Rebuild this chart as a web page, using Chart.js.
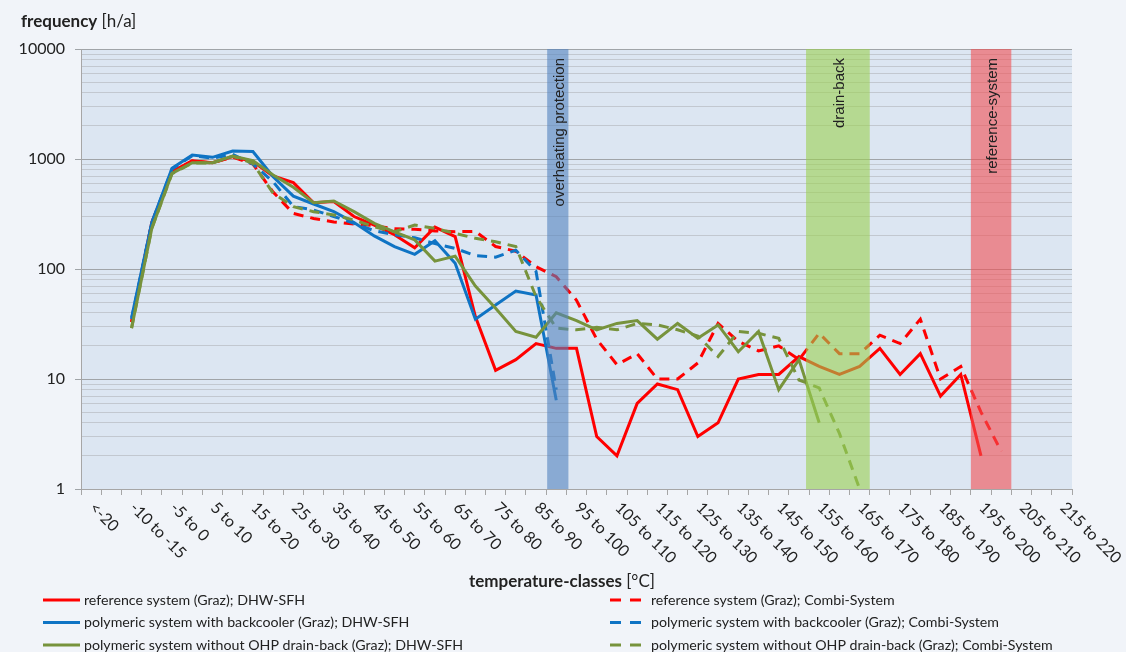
<!DOCTYPE html>
<html>
<head>
<meta charset="utf-8">
<script src="https://cdn.jsdelivr.net/npm/chart.js@4"></script>
<style>
  body { margin: 0; background: #f1f4f9; }
</style>
</head>
<body>
<canvas id="chart" width="1126" height="652"></canvas>
<script>
// temperature classes (every other one is labelled on the axis)
const categories = [
  '<-20', '-20 to -15', '-10 to -15', '-10 to -5', '-5 to 0', '0 to 5', '5 to 10', '10 to 15',
  '15 to 20', '20 to 25', '25 to 30', '30 to 35', '35 to 40', '40 to 45', '45 to 50', '50 to 55',
  '55 to 60', '60 to 65', '65 to 70', '70 to 75', '75 to 80', '80 to 85', '85 to 90', '90 to 95',
  '95 to 100', '100 to 105', '105 to 110', '110 to 115', '115 to 120', '120 to 125', '125 to 130',
  '130 to 135', '135 to 140', '140 to 145', '145 to 150', '150 to 155', '155 to 160', '160 to 165',
  '165 to 170', '170 to 175', '175 to 180', '180 to 185', '185 to 190', '190 to 195', '195 to 200',
  '200 to 205', '205 to 210', '210 to 215', '215 to 220'
];

// frequency [h/a]
const refDhw = [null, null, 33, 265, 770, 965, 925, 1050, 950, 700, 610, 400, 410, 300, 250, 205, 156,
  240, 197, 37, 12, 15, 21, 19, 19, 3, 2, 6, 9, 8, 3, 4, 10, 11, 11, 16, 13, 11, 13, 19, 11, 17, 7, 11, 2];
const refCombi = [null, null, 33, 262, 760, 960, 920, 1040, 900, 500, 320, 288, 268, 256, 248, 232, 230,
  222, 218, 220, 160, 145, 105, 85, 52, 23, 13.5, 17, 10, 10, 14, 32, 22, 18, 20, 15, 26, 17, 17, 25, 21,
  35, 10, 13, 5, 2.2];
const backDhw = [null, null, 36, 265, 823, 1087, 1036, 1183, 1170, 690, 460, 390, 332, 265, 200, 160, 136,
  181, 113, 35, 47, 63, 58, 6.4];
const backCombi = [null, null, 35, 262, 810, 1070, 1020, 1100, 900, 620, 370, 344, 300, 260, 223, 205, 192,
  170, 154, 132, 128, 148, 95, 8];
const drainDhw = [null, null, 29, 234, 741, 925, 925, 1065, 966, 715, 553, 401, 415, 332, 260, 218, 184,
  118, 131, 70, 44, 27, 24, 40, 34, 28, 32, 34, 23, 32, 23.5, 31, 17.7, 27, 8, 15, 4];
const drainCombi = [null, null, 29, 234, 735, 920, 920, 1060, 914, 488, 369, 332, 310, 279, 242, 218, 251,
  234, 211, 190, 177, 160, 56, 29, 28, 29.5, 28, 32, 31, 28, 24.6, 16, 27, 26, 23.4, 9.8, 8.3, 3.2, 1];

const seriesLabels = [
  'reference system (Graz); DHW-SFH',
  'reference system (Graz); Combi-System',
  'polymeric system with backcooler (Graz); DHW-SFH',
  'polymeric system with backcooler (Graz); Combi-System',
  'polymeric system without OHP drain-back (Graz); DHW-SFH',
  'polymeric system without OHP drain-back (Graz); Combi-System'
];

// y ticks of the log axis
const decades = [1, 10, 100, 1000, 10000];
const yTickValues = [1, 2, 3, 4, 5, 6, 7, 8, 9, 10, 20, 30, 40, 50, 60, 70, 80, 90, 100, 200, 300, 400, 500,
  600, 700, 800, 900, 1000, 2000, 3000, 4000, 5000, 6000, 7000, 8000, 9000, 10000];

// marked ranges (category boundaries)
const bandLabels = ['overheating protection', 'drain-back', 'reference-system'];
const bandFrom = [23.05, 35.85, 44];
const bandTo = [24.1, 39, 46];
const bandColors = ['rgba(82,130,190,0.6)', 'rgba(155,208,80,0.6)', 'rgba(242,78,82,0.6)'];

const RED = '#ff0000', BLUE = '#0f74c4', GREEN = '#77933c';
const FONT = 'Lato, "Open Sans", sans-serif';

function line(label, data, color, dashed, order) {
  return {
    label, data,
    borderColor: color,
    borderWidth: 3,
    borderDash: dashed ? [10, 7] : [],
    pointRadius: 0,
    fill: false,
    tension: 0,
    order
  };
}

const bgPlugin = {
  id: 'bg',
  beforeDraw(chart) {
    const { ctx, chartArea: a } = chart;
    ctx.save();
    ctx.fillStyle = '#f1f4f9';
    ctx.fillRect(0, 0, chart.width, chart.height);
    ctx.fillStyle = '#dce6f2';
    ctx.fillRect(a.left, a.top, a.right - a.left, a.bottom - a.top);
    ctx.restore();
  }
};

const bandPlugin = {
  id: 'bands',
  afterDatasetsDraw(chart) {
    const { ctx, chartArea: a, scales: { x } } = chart;
    ctx.save();
    bandLabels.forEach((lab, i) => {
      const x1 = x.getPixelForValue(bandFrom[i] - 0.5);
      const x2 = x.getPixelForValue(bandTo[i] - 0.5);
      ctx.fillStyle = bandColors[i];
      ctx.fillRect(x1, a.top, x2 - x1, a.bottom - a.top);
      ctx.save();
      ctx.translate((x1 + x2) / 2 + 2, a.top + 9);
      ctx.rotate(-Math.PI / 2);
      ctx.font = '15px "Liberation Sans", Arial, sans-serif';
      ctx.fillStyle = '#222';
      ctx.textAlign = 'right';
      ctx.textBaseline = 'middle';
      ctx.fillText(lab, 0, 0);
      ctx.restore();
    });
    ctx.restore();
  }
};

const textPlugin = {
  id: 'texts',
  afterDraw(chart) {
    const { ctx, scales: { x } } = chart;
    ctx.save();
    ctx.fillStyle = '#222';

    // rotated category labels
    ctx.font = '16px ' + FONT;
    categories.forEach((lab, i) => {
      if (i % 2) return;
      ctx.save();
      ctx.translate(x.getPixelForValue(i) + 1, 505);
      ctx.rotate(Math.PI / 4);
      ctx.textAlign = 'left';
      ctx.textBaseline = 'middle';
      ctx.fillText(lab, 0, 0);
      ctx.restore();
    });

    // axis titles: bold part + plain part
    function title(bold, plain, tx, ty) {
      ctx.textAlign = 'left';
      ctx.textBaseline = 'middle';
      ctx.font = 'bold 17px ' + FONT;
      ctx.fillText(bold, tx, ty);
      const w = ctx.measureText(bold + ' ').width;
      ctx.font = '17px ' + FONT;
      ctx.fillText(plain, tx + w, ty);
    }
    title('frequency', '[h/a]', 21, 22);
    title('temperature-classes', '[°C]', 469, 582);

    // legend, two columns
    ctx.font = '14.2px ' + FONT;
    chart.data.datasets.forEach((ds, i) => {
      const col = i % 2, row = Math.floor(i / 2);
      const y = 600 + row * 22.5;
      ctx.strokeStyle = ds.borderColor;
      ctx.lineWidth = 3;
      ctx.beginPath();
      if (col === 0) {
        ctx.setLineDash([]);
        ctx.moveTo(43, y); ctx.lineTo(80, y);
      } else {
        ctx.setLineDash([11, 9]);
        ctx.moveTo(610, y); ctx.lineTo(641, y);
      }
      ctx.stroke();
      ctx.setLineDash([]);
      ctx.textAlign = 'left';
      ctx.textBaseline = 'middle';
      ctx.fillText(ds.label, col === 0 ? 84 : 651, y);
    });
    ctx.restore();
  }
};

new Chart(document.getElementById('chart'), {
  type: 'line',
  data: {
    labels: categories,
    datasets: [
      line(seriesLabels[0], refDhw, RED, false, 5),
      line(seriesLabels[1], refCombi, RED, true, 4),
      line(seriesLabels[2], backDhw, BLUE, false, 3),
      line(seriesLabels[3], backCombi, BLUE, true, 2),
      line(seriesLabels[4], drainDhw, GREEN, false, 1),
      line(seriesLabels[5], drainCombi, GREEN, true, 0)
    ]
  },
  options: {
    responsive: false,
    animation: false,
    spanGaps: false,
    layout: { padding: { top: 49, right: 54, left: 0, bottom: 0 } },
    plugins: {
      legend: { display: false },
      tooltip: { enabled: false }
    },
    scales: {
      x: {
        type: 'category',
        offset: true,
        afterFit: s => { s.height = 163; },
        ticks: { display: false },
        grid: {
          offset: true,
          drawOnChartArea: false,
          drawTicks: true,
          tickLength: 6,
          color: '#a6a6a6'
        },
        border: { display: true, color: '#a6a6a6' }
      },
      y: {
        type: 'logarithmic',
        min: 1,
        max: 10000,
        afterFit: s => { s.width = 81; },
        afterBuildTicks: s => { s.ticks = yTickValues.map(v => ({ value: v })); },
        ticks: {
          autoSkip: false,
          padding: 10,
          color: '#222',
          font: { family: FONT, size: 16 },
          callback: v => decades.includes(v) ? String(v) : ''
        },
        grid: {
          drawTicks: true,
          tickLength: 6,
          color: c => decades.includes(c.tick && c.tick.value) ? '#a0a4a8' : '#c2c8d0',
          tickColor: c => decades.includes(c.tick && c.tick.value) ? '#a0a4a8' : 'rgba(0,0,0,0)'
        },
        border: { display: true, color: '#a6a6a6' }
      }
    }
  },
  plugins: [bgPlugin, bandPlugin, textPlugin]
});
</script>
</body>
</html>
